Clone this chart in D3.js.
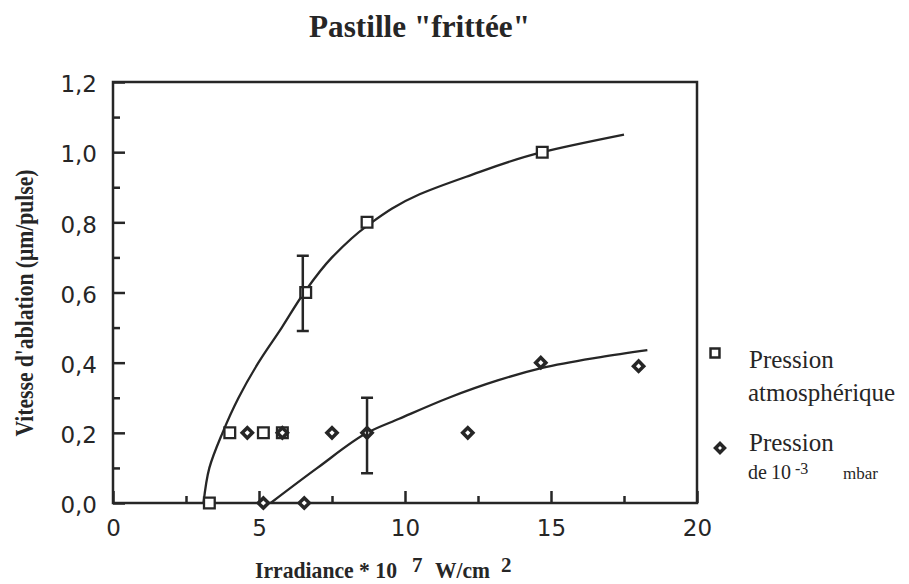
<!DOCTYPE html>
<html>
<head>
<meta charset="utf-8">
<script src="https://cdnjs.cloudflare.com/ajax/libs/d3/7.8.5/d3.min.js"></script>
<style>
  body { margin: 0; background: #fff; }
</style>
</head>
<body>
<script>
// Data
var atmX = [3.3, 4.0, 5.15, 5.8, 6.6, 8.7, 14.7];
var atmY = [0.0, 0.2, 0.2, 0.2, 0.6, 0.8, 1.0];

var vacX = [4.6, 5.8, 5.15, 6.55, 7.5, 8.7, 12.15, 14.65, 18.0];
var vacY = [0.2, 0.2, 0.0, 0.0, 0.2, 0.2, 0.2, 0.4, 0.39];

// Error bars (x, low, high)
var errX = [6.5, 8.7];
var errLow = [0.49, 0.085];
var errHigh = [0.705, 0.30];

// Hand-drawn trend curves
var atmCurveX = [3.1, 3.3, 3.75, 4.3, 4.98, 5.78, 6.55, 7.5, 8.7, 10.5, 12.1, 14.7, 17.5];
var atmCurveY = [0.0, 0.1, 0.2, 0.3, 0.4, 0.5, 0.6, 0.7, 0.79, 0.88, 0.93, 1.0, 1.05];
var vacCurveX = [5.4, 7.0, 8.7, 9.8, 11.5, 13.2, 14.7, 16.7, 18.3];
var vacCurveY = [0.0, 0.1, 0.2, 0.24, 0.3, 0.35, 0.385, 0.416, 0.436];

// Ticks
var xMajor = [0, 5, 10, 15, 20];
var xMinor = [2.5, 7.5, 12.5, 17.5];
var yMajor = [0, 0.2, 0.4, 0.6, 0.8, 1.0, 1.2];
var yMinor = [0.1, 0.3, 0.5, 0.7, 0.9, 1.1];

var width = 909;
var height = 584;
var ink = "#262626";
var serif = "'Liberation Serif', 'Times New Roman', serif";
var sans = "'DejaVu Sans', Verdana, sans-serif";

var svg = d3.select("body")
    .append("svg")
    .attr("width", width)
    .attr("height", height)
    .style("background", "#fff");

// Scales
var x = d3.scaleLinear().domain([0, 20]).range([113, 697]);
var y = d3.scaleLinear().domain([0, 1.2]).range([503, 82]);

var fmt = function (d) { return d3.format(".1f")(d).replace(".", ","); };

// Y axis (ticks pointing inward)
var yAxis = svg.append("g")
    .attr("transform", "translate(" + x(0) + ",0)")
    .call(d3.axisLeft(y).tickValues(yMajor).tickSize(-12).tickPadding(16).tickFormat(fmt));
svg.append("g")
    .attr("transform", "translate(" + x(0) + ",0)")
    .call(d3.axisLeft(y).tickValues(yMinor).tickSize(-7).tickFormat(""));

// X axis
var xAxis = svg.append("g")
    .attr("transform", "translate(0," + y(0) + ")")
    .call(d3.axisBottom(x).tickValues(xMajor).tickSize(-12).tickPadding(17).tickFormat(d3.format("d")));
svg.append("g")
    .attr("transform", "translate(0," + y(0) + ")")
    .call(d3.axisBottom(x).tickValues(xMinor).tickSize(-7).tickFormat(""));

svg.selectAll(".domain").remove();
svg.selectAll(".tick line")
    .attr("stroke", ink)
    .attr("stroke-width", 2.5);
svg.selectAll(".tick text")
    .attr("fill", ink)
    .style("font-family", sans)
    .style("font-size", "23px");
yAxis.selectAll(".tick text").attr("dy", "0.42em");

// Frame
svg.append("rect")
    .attr("x", x(0))
    .attr("y", y(1.2))
    .attr("width", x(20) - x(0))
    .attr("height", y(0) - y(1.2))
    .attr("fill", "none")
    .attr("stroke", ink)
    .attr("stroke-width", 2.5);

// Curves
var lineY = d3.line()
    .x(function (d) { return x(d[0]); })
    .y(function (d) { return y(d[1]); })
    .curve(d3.curveMonotoneY);
var lineX = d3.line()
    .x(function (d) { return x(d[0]); })
    .y(function (d) { return y(d[1]); })
    .curve(d3.curveMonotoneX);

svg.append("path")
    .attr("d", lineY(d3.zip(atmCurveX, atmCurveY)))
    .attr("fill", "none")
    .attr("stroke", ink)
    .attr("stroke-width", 2.3);

svg.append("path")
    .attr("d", lineX(d3.zip(vacCurveX, vacCurveY)))
    .attr("fill", "none")
    .attr("stroke", ink)
    .attr("stroke-width", 2.3);

// Markers
var square = d3.symbol().type(d3.symbolSquare).size(115);
var diamond = d3.symbol().type(d3.symbolSquare).size(52);

svg.selectAll(".sq")
    .data(d3.zip(atmX, atmY))
    .enter()
    .append("path")
    .attr("d", square)
    .attr("transform", function (d) { return "translate(" + x(d[0]) + "," + y(d[1]) + ")"; })
    .attr("fill", "#fff")
    .attr("stroke", ink)
    .attr("stroke-width", 2.3);

svg.selectAll(".dm")
    .data(d3.zip(vacX, vacY))
    .enter()
    .append("path")
    .attr("d", diamond)
    .attr("transform", function (d) { return "translate(" + x(d[0]) + "," + y(d[1]) + ") rotate(45)"; })
    .attr("fill", "#fff")
    .attr("stroke", ink)
    .attr("stroke-width", 3.5);

// Error bars
var errs = d3.zip(errX, errLow, errHigh);
svg.selectAll(".err")
    .data(errs)
    .enter()
    .append("path")
    .attr("d", function (d) {
        var cx = x(d[0]), lo = y(d[1]), hi = y(d[2]);
        return "M" + cx + "," + lo + "V" + hi +
               "M" + (cx - 6) + "," + lo + "H" + (cx + 6) +
               "M" + (cx - 6) + "," + hi + "H" + (cx + 6);
    })
    .attr("fill", "none")
    .attr("stroke", ink)
    .attr("stroke-width", 2.5);

// Title
svg.append("text")
    .attr("x", 309)
    .attr("y", 37)
    .attr("textLength", 221)
    .attr("lengthAdjust", "spacingAndGlyphs")
    .style("font-family", serif)
    .style("font-weight", "bold")
    .style("font-size", "32px")
    .attr("fill", ink)
    .text("Pastille \"frittée\"");

// X label
var xl = svg.append("g")
    .style("font-family", serif)
    .style("font-weight", "bold")
    .style("font-size", "24px")
    .attr("fill", ink);
xl.append("text").attr("x", 255).attr("y", 578)
    .attr("textLength", 142).attr("lengthAdjust", "spacingAndGlyphs")
    .text("Irradiance * 10");
xl.append("text").attr("x", 412).attr("y", 572).style("font-size", "21px").text("7");
xl.append("text").attr("x", 435).attr("y", 578)
    .attr("textLength", 55).attr("lengthAdjust", "spacingAndGlyphs")
    .text("W/cm");
xl.append("text").attr("x", 501).attr("y", 572).style("font-size", "21px").text("2");

// Y label
svg.append("text")
    .attr("transform", "translate(33,303) rotate(-90)")
    .attr("text-anchor", "middle")
    .attr("textLength", 267)
    .attr("lengthAdjust", "spacingAndGlyphs")
    .style("font-family", serif)
    .style("font-weight", "bold")
    .style("font-size", "25px")
    .attr("fill", ink)
    .text("Vitesse d'ablation (μm/pulse)");

// Legend
svg.append("path")
    .attr("d", d3.symbol().type(d3.symbolSquare).size(80))
    .attr("transform", "translate(715,353)")
    .attr("fill", "#fff")
    .attr("stroke", ink)
    .attr("stroke-width", 2.5);
svg.append("path")
    .attr("d", d3.symbol().type(d3.symbolSquare).size(40))
    .attr("transform", "translate(720,448) rotate(45)")
    .attr("fill", "#fff")
    .attr("stroke", ink)
    .attr("stroke-width", 3.5);

var lg = svg.append("g")
    .style("font-family", serif)
    .style("font-size", "25px")
    .attr("fill", ink);
lg.append("text").attr("x", 749).attr("y", 368).text("Pression");
lg.append("text").attr("x", 748).attr("y", 401).text("atmosphérique");
lg.append("text").attr("x", 749).attr("y", 451).text("Pression");
lg.append("text").attr("x", 748).attr("y", 479).style("font-size", "20px").text("de");
lg.append("text").attr("x", 771).attr("y", 479).style("font-size", "20px").text("10");
lg.append("text").attr("x", 795).attr("y", 474).style("font-size", "16px").text("-3");
lg.append("text").attr("x", 843).attr("y", 479).style("font-size", "17px").text("mbar");
</script>
</body>
</html>
